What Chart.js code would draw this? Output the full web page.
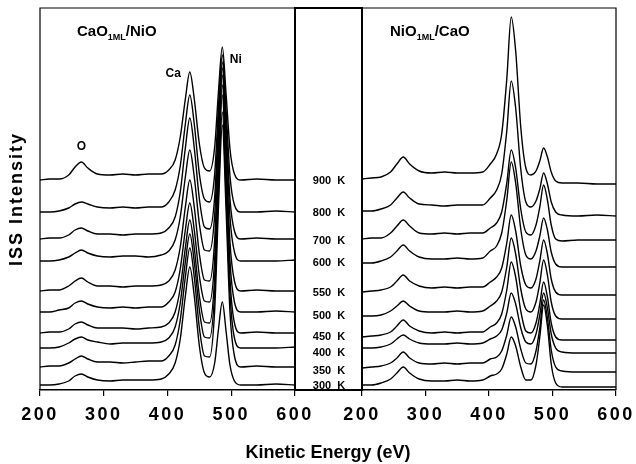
<!DOCTYPE html>
<html>
<head>
<meta charset="utf-8">
<script src="https://cdn.jsdelivr.net/npm/chart.js@4.4.0/dist/chart.umd.min.js"></script>
<style>
  body { margin: 0; background: #fff; }
  #wrap { position: relative; width: 636px; height: 464px; overflow: hidden; }
  #wrap canvas { position: absolute; left: 0; top: 0; }
  .t { position: absolute; font-family: "Liberation Sans", Arial, sans-serif; font-weight: bold; color: #000; white-space: nowrap; }
  .t sub { font-size: 9px; vertical-align: -4px; }
</style>
</head>
<body>
<div id="wrap">
  <canvas id="left" width="636" height="464"></canvas>
  <canvas id="right" width="636" height="464"></canvas>
  <div class="t" style="left:77px;top:22px;font-size:15px;line-height:18px;">CaO<sub>1ML</sub>/NiO</div>
  <div class="t" style="left:390px;top:22px;font-size:15px;line-height:18px;">NiO<sub>1ML</sub>/CaO</div>
  <div class="t" style="left:-84px;top:189px;width:200px;text-align:center;font-size:18px;line-height:20px;letter-spacing:2px;transform:rotate(-90deg);">ISS Intensity</div>
  <div class="t" style="left:228px;top:442px;width:200px;text-align:center;font-size:18px;line-height:20px;">Kinetic Energy (eV)</div>
</div>
<script>
// ISS spectra, CaO(1ML)/NiO and NiO(1ML)/CaO, stacked by anneal temperature

const temps = [900, 800, 700, 600, 550, 500, 450, 400, 350, 300];
const energy = [200, 215, 230, 245, 255, 265, 275, 290, 310, 330, 350, 370, 390, 402, 412, 420, 428, 435, 442, 450, 458, 466, 474, 480, 486, 492, 498, 505, 515, 540, 570, 600];

// vertical offset of each spectrum (one per temperature)
const leftBase = [210, 178, 151, 129, 99, 78, 57, 42, 23, 5];
const rightBase = [211, 179, 151, 127, 98, 74, 53, 42, 22, 5];
// where the temperature labels sit in the middle strip
const labelLevels = [209, 177, 149, 127, 97, 74, 53, 37, 19, 4];

// CaO(1ML)/NiO, intensity above offset
const L900 = [0, 1, 1, 5, 13, 18, 12, 6, 5, 6, 5, 6, 6, 10, 20, 43, 81, 108, 81, 36, 12, 9, 33, 89, 133, 85, 31, 6, 0, 1, 0, 0];
const L800 = [0, 0, 1, 4, 8, 10, 8, 5, 4, 5, 4, 5, 5, 10, 22, 46, 88, 117, 88, 38, 13, 10, 38, 105, 157, 101, 36, 7, 0, 0, 1, 0];
const L700 = [0, 1, 1, 4, 9, 11, 8, 5, 5, 4, 5, 5, 6, 11, 22, 47, 91, 121, 91, 40, 12, 10, 42, 118, 177, 113, 40, 8, 0, 1, 0, 0];
const L600 = [0, 0, 1, 4, 8, 11, 8, 5, 4, 5, 5, 4, 6, 10, 21, 44, 84, 111, 84, 37, 11, 10, 46, 128, 193, 124, 44, 9, 0, 0, 0, 1];
const L550 = [0, 1, 1, 5, 10, 13, 9, 5, 5, 4, 5, 5, 6, 10, 21, 44, 84, 111, 84, 37, 11, 10, 51, 144, 216, 138, 49, 10, 0, 1, 0, 0];
const L500 = [0, 0, 2, 4, 9, 11, 8, 5, 4, 5, 4, 5, 5, 10, 20, 43, 82, 109, 82, 36, 11, 10, 53, 151, 227, 145, 51, 10, 0, 0, 1, 0];
const L450 = [0, 1, 1, 4, 9, 11, 8, 5, 5, 5, 4, 5, 6, 10, 21, 45, 85, 113, 85, 37, 11, 10, 56, 158, 238, 152, 54, 10, 0, 1, 0, 0];
const L400 = [0, 0, 1, 5, 9, 11, 8, 6, 4, 5, 5, 5, 6, 10, 21, 45, 86, 114, 86, 38, 11, 10, 56, 157, 236, 151, 54, 10, 0, 0, 0, 1];
const L350 = [0, 1, 1, 4, 8, 11, 8, 5, 5, 4, 5, 6, 6, 11, 22, 47, 90, 119, 90, 39, 11, 10, 57, 161, 242, 155, 55, 11, 0, 1, 0, 0];
const L300 = [0, 0, 1, 4, 9, 11, 8, 5, 4, 5, 5, 5, 6, 11, 22, 46, 89, 118, 89, 39, 12, 8, 22, 56, 83, 53, 20, 4, 0, 0, 1, 0];

// NiO(1ML)/CaO, intensity above offset
const R900 = [0, 1, 2, 7, 15, 22, 15, 8, 6, 7, 6, 6, 7, 15, 25, 45, 100, 162, 128, 52, 11, 4, 8, 18, 31, 22, 7, -2, -4, -4, -5, -5];
const R800 = [0, 0, 2, 6, 13, 19, 13, 7, 6, 5, 6, 6, 6, 13, 21, 37, 80, 130, 103, 42, 9, 4, 10, 22, 38, 27, 9, -1, -4, -5, -4, -5];
const R700 = [0, 1, 1, 6, 13, 19, 13, 6, 5, 6, 5, 6, 6, 11, 16, 27, 56, 89, 71, 30, 7, 4, 14, 32, 54, 39, 14, 0, -2, -1, -1, -1];
const R600 = [0, 0, 2, 6, 12, 18, 12, 6, 4, 4, 5, 4, 5, 12, 17, 30, 63, 101, 80, 34, 8, 4, 12, 27, 45, 33, 11, -1, -4, -4, -4, -4];
const R550 = [0, 1, 2, 5, 11, 17, 11, 6, 4, 5, 4, 5, 5, 10, 15, 24, 49, 77, 61, 26, 7, 4, 13, 31, 52, 38, 13, 0, -3, -3, -3, -3];
const R500 = [0, 0, 1, 5, 10, 15, 10, 5, 4, 4, 5, 4, 5, 10, 15, 24, 49, 78, 62, 27, 7, 4, 14, 33, 56, 41, 14, 0, -3, -3, -3, -3];
const R450 = [0, 1, 2, 5, 11, 17, 11, 6, 4, 5, 4, 5, 5, 10, 14, 23, 47, 75, 60, 26, 6, 4, 14, 33, 55, 40, 14, 0, -3, -3, -3, -3];
const R400 = [0, 0, 1, 4, 9, 13, 9, 5, 4, 4, 5, 4, 5, 9, 12, 18, 35, 55, 44, 20, 6, 4, 14, 33, 55, 40, 14, 0, -4, -5, -5, -5];
const R350 = [0, 1, 2, 5, 10, 16, 10, 5, 4, 5, 4, 5, 5, 9, 11, 17, 33, 51, 41, 19, 5, 4, 17, 40, 68, 50, 18, 1, -3, -4, -4, -4];
const R300 = [0, 0, 2, 6, 12, 18, 12, 6, 4, 4, 5, 4, 5, 9, 11, 16, 31, 48, 39, 18, 5, 5, 20, 48, 80, 59, 21, 2, -2, -2, -2, -2];

const leftShapes = [L900, L800, L700, L600, L550, L500, L450, L400, L350, L300];
const rightShapes = [R900, R800, R700, R600, R550, R500, R450, R400, R350, R300];

const xTicks = [200, 300, 400, 500, 600];
const FONT = '"Liberation Sans", Arial, sans-serif';

function buildSets(shapes, bases) {
    return shapes.map((s, i) => ({
        label: temps[i] + ' K',
        data: energy.map((e, j) => ({ x: e, y: s[j] + bases[i] })),
        borderColor: '#000',
        borderWidth: 1.4,
        pointRadius: 0,
        fill: false,
        cubicInterpolationMode: 'monotone'
    }));
}

// wider digits on the energy axis
const spacing = {
    id: 'spacing',
    beforeDraw(chart) { chart.ctx.letterSpacing = '2.5px'; },
    beforeDatasetsDraw(chart) { chart.ctx.letterSpacing = '0px'; }
};

const leftFrame = {
    id: 'leftFrame',
    afterDraw(chart) {
        const ctx = chart.ctx, a = chart.chartArea;
        const xs = chart.scales.x, ys = chart.scales.y;
        ctx.save();
        ctx.strokeStyle = '#000';
        ctx.lineWidth = 1.2;
        ctx.beginPath();
        ctx.moveTo(a.left, a.bottom);
        ctx.lineTo(a.left, a.top);
        ctx.lineTo(a.right, a.top);
        ctx.stroke();
        // middle strip with temperatures
        ctx.lineWidth = 2;
        ctx.strokeRect(a.right, a.top, 67, a.bottom - a.top);

        ctx.fillStyle = '#000';
        ctx.textAlign = 'center';
        ctx.textBaseline = 'middle';
        ctx.font = 'bold 11px ' + FONT;
        temps.forEach((t, i) => {
            ctx.fillText(t + '  K', a.right + 34, ys.getPixelForValue(labelLevels[i]));
        });

        ctx.font = 'bold 12px ' + FONT;
        ctx.fillText('O', xs.getPixelForValue(265), ys.getPixelForValue(243));
        ctx.fillText('Ca', xs.getPixelForValue(409), ys.getPixelForValue(316));
        ctx.fillText('Ni', xs.getPixelForValue(507), ys.getPixelForValue(330));
        ctx.restore();
    }
};

const rightFrame = {
    id: 'rightFrame',
    afterDraw(chart) {
        const ctx = chart.ctx, a = chart.chartArea;
        ctx.save();
        ctx.strokeStyle = '#000';
        ctx.lineWidth = 1.2;
        ctx.beginPath();
        ctx.moveTo(a.left, a.top);
        ctx.lineTo(a.right, a.top);
        ctx.lineTo(a.right, a.bottom);
        ctx.stroke();
        ctx.restore();
    }
};

function makeChart(id, shapes, bases, padLeft, padRight, frame) {
    return new Chart(document.getElementById(id), {
        type: 'line',
        data: { datasets: buildSets(shapes, bases) },
        options: {
            responsive: false,
            animation: false,
            events: [],
            layout: { padding: { left: padLeft, right: padRight, top: 8, bottom: 24 } },
            plugins: { legend: { display: false }, tooltip: { enabled: false } },
            scales: {
                x: {
                    type: 'linear',
                    min: 200,
                    max: 600,
                    afterBuildTicks: s => { s.ticks = xTicks.map(v => ({ value: v })); },
                    afterFit: s => { s.height = 50; s.paddingLeft = 0; s.paddingRight = 0; },
                    grid: { drawOnChartArea: false, drawTicks: true, tickLength: 6, color: '#000', lineWidth: 1.2 },
                    border: { display: true, color: '#000', width: 1.5 },
                    ticks: {
                        color: '#000',
                        padding: 8,
                        maxRotation: 0,
                        autoSkip: false,
                        font: { family: FONT, size: 18, weight: 'bold' }
                    }
                },
                y: { display: false, min: 0, max: 382 }
            }
        },
        plugins: [spacing, frame]
    });
}

makeChart('left', leftShapes, leftBase, 40, 341, leftFrame);
makeChart('right', rightShapes, rightBase, 362, 20, rightFrame);
</script>
</body>
</html>
